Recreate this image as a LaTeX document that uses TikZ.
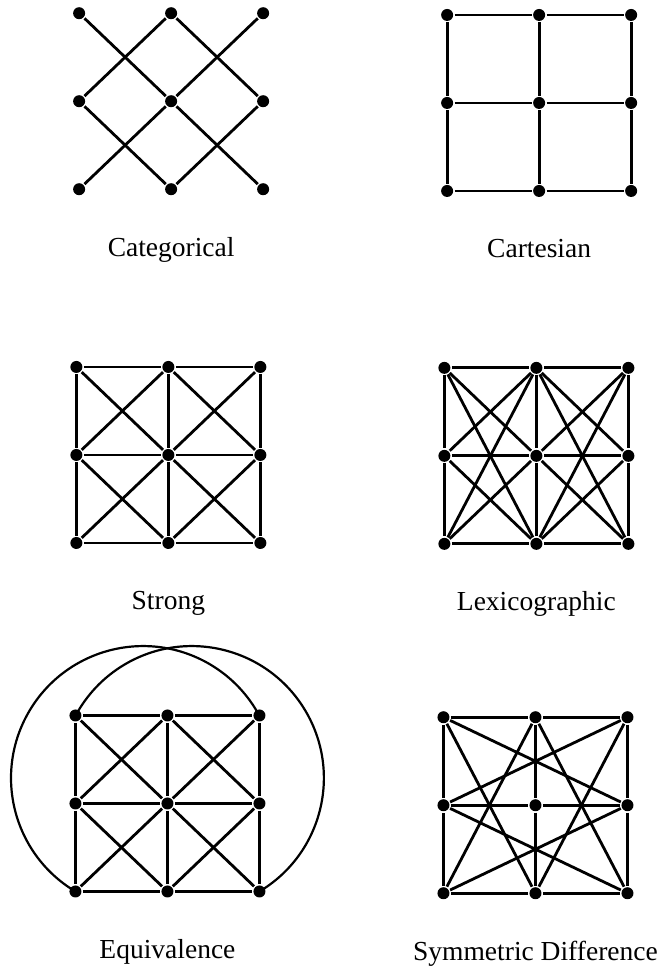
\documentclass[tikz,border=0pt]{standalone}
\usepackage{fontspec}
\setmainfont{Liberation Serif}

\tikzset{
  vtx/.style={circle,fill,inner sep=0pt,minimum size=6pt},
  lbl/.style={anchor=base,font=\fontsize{13.75}{16}\selectfont}
}

\begin{document}
\begin{tikzpicture}[x=46pt,y=44pt,line width=1.4pt]
  \useasboundingbox (0,0) rectangle (7.152,-10.977);

  % categorical
  \begin{scope}[shift={(0.86,-0.15)}]
    \foreach \i in {0,1,2}
      \foreach \j in {0,1,2}
        \node[vtx] (ca\i\j) at (\i,-\j) {};
    \node[lbl] (ca-lbl) at (1,-2.76) {Categorical};
  \end{scope}
  \foreach \i/\k in {0/1,1/2}
    \foreach \j/\l in {0/1,1/2} {
      \draw (ca\i\j) -- (ca\k\l);
      \draw (ca\k\j) -- (ca\i\l);
    }

  % cartesian
  \begin{scope}[shift={(4.86,-0.17)}]
    \foreach \i in {0,1,2}
      \foreach \j in {0,1,2}
        \node[vtx] (cr\i\j) at (\i,-\j) {};
    \node[lbl] (cr-lbl) at (1,-2.76) {Cartesian};
  \end{scope}
  \foreach \i/\k in {0/1,1/2}
    \foreach \j in {0,1,2} {
      \draw (cr\i\j) -- (cr\k\j);
      \draw (cr\j\i) -- (cr\j\k);
    }

  % strong
  \begin{scope}[shift={(0.83,-4.17)}]
    \foreach \i in {0,1,2}
      \foreach \j in {0,1,2}
        \node[vtx] (st\i\j) at (\i,-\j) {};
    \node[lbl] (st-lbl) at (1,-2.76) {Strong};
  \end{scope}
  \foreach \i/\k in {0/1,1/2} {
    \foreach \j in {0,1,2} {
      \draw (st\i\j) -- (st\k\j);
      \draw (st\j\i) -- (st\j\k);
    }
    \foreach \j/\l in {0/1,1/2} {
      \draw (st\i\j) -- (st\k\l);
      \draw (st\k\j) -- (st\i\l);
    }
  }

  % lexicographic
  \begin{scope}[shift={(4.83,-4.18)}]
    \foreach \i in {0,1,2}
      \foreach \j in {0,1,2}
        \node[vtx] (lx\i\j) at (\i,-\j) {};
    \node[lbl] (lx-lbl) at (1,-2.76) {Lexicographic};
  \end{scope}
  \foreach \i/\k in {0/1,1/2} {
    \foreach \j in {0,1,2} {
      \draw (lx\j\i) -- (lx\j\k);
      \foreach \l in {0,1,2}
        \draw (lx\i\j) -- (lx\k\l);
    }
  }

  % equivalence
  \begin{scope}[shift={(0.82,-8.13)}]
    \foreach \i in {0,1,2}
      \foreach \j in {0,1,2}
        \node[vtx] (eq\i\j) at (\i,-\j) {};
    \node[lbl] (eq-lbl) at (1,-2.76) {Equivalence};
  \end{scope}
  \foreach \i/\k in {0/1,1/2} {
    \foreach \j in {0,1,2} {
      \draw (eq\i\j) -- (eq\k\j);
      \draw (eq\j\i) -- (eq\j\k);
    }
    \foreach \j/\l in {0/1,1/2} {
      \draw (eq\i\j) -- (eq\k\l);
      \draw (eq\k\j) -- (eq\i\l);
    }
  }
  \draw[line width=1.1pt] (eq02.center) arc[start angle=239.2,end angle=28.1,radius=66pt];
  \draw[line width=1.1pt] (eq22.center) arc[start angle=-59.2,end angle=151.9,radius=66pt];

  % symmetric difference
  \begin{scope}[shift={(4.82,-8.15)}]
    \foreach \i in {0,1,2}
      \foreach \j in {0,1,2}
        \node[vtx] (sd\i\j) at (\i,-\j) {};
    \node[lbl] (sd-lbl) at (1,-2.76) {Symmetric Difference};
  \end{scope}
  \draw (sd00) -- (sd10) -- (sd20) -- (sd21) -- (sd22) -- (sd12) -- (sd02) -- (sd01) -- (sd00);
  \draw (sd10) -- (sd11) -- (sd12);
  \draw (sd01) -- (sd11) -- (sd21);
  \foreach \a/\b in {10/02,10/22,12/00,12/20,01/20,01/22,21/00,21/02}
    \draw (sd\a) -- (sd\b);
\end{tikzpicture}
\end{document}
